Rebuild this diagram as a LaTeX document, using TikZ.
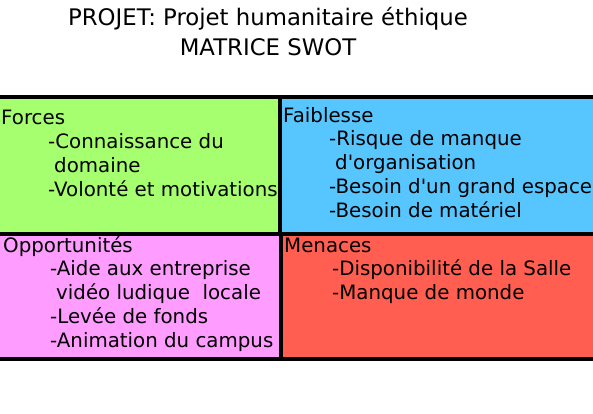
\documentclass[tikz,border=0pt]{standalone}
\usepackage{fontspec}
\setmainfont{DejaVu Sans}[Ligatures=TeXOff]
\usepackage{xcolor}
\usetikzlibrary{positioning}

\definecolor{forcegreen}{HTML}{A6FF6E}
\definecolor{weakblue}{HTML}{57C6FF}
\definecolor{opppink}{HTML}{FF9CFF}
\definecolor{threatred}{HTML}{FF5E50}

\begin{document}
\begin{tikzpicture}[x=1pt, y=-1pt,
    quad/.style={rectangle, inner sep=0pt, anchor=north west},
    heading/.style={anchor=base west, inner sep=0pt, font=\fontsize{19.8}{24}\selectfont},
    items/.style={anchor=base west, inner sep=0pt, align=left, font=\fontsize{19.8}{24}\selectfont},
    border/.style={line width=4pt},
]
\useasboundingbox (0,0) rectangle (593,413);

% title (base = last line)
\node[anchor=base, align=center, inner sep=0pt, font=\fontsize{22.8}{30}\selectfont] (title) at (268,55)
    {PROJET: Projet humanitaire éthique\\MATRICE SWOT};

% the four quadrants
\node[quad, fill=forcegreen, minimum width=280pt, minimum height=137pt] (forces) at (0,97) {};
\node[quad, fill=weakblue, minimum width=313pt, minimum height=137pt] (faiblesse) at (280,97) {};
\node[quad, fill=opppink, minimum width=281pt, minimum height=125pt] (opport) at (0,234) {};
\node[quad, fill=threatred, minimum width=312pt, minimum height=125pt] (menaces) at (281,234) {};

\draw[border] (forces.north west) -- (faiblesse.north east);
\draw[border] (forces.south west) -- (faiblesse.south east);
\draw[border] (opport.south west) -- (menaces.south east);
\draw[border] (forces.north east) -- (forces.south east);
\draw[border] (opport.north east) -- (opport.south east);

% texts (lists anchored on their last line)
\node[heading] (forcesT) at (1,124) {Forces};
\node[items] (forcesL) at (48,196) {-Connaissance du\\\hspace*{6pt}domaine\\-Volonté et motivations};

\node[heading] (faiblesseT) at (283,122) {Faiblesse};
\node[items] (faiblesseL) at (329,217) {-Risque de manque\\\hspace*{6pt}d'organisation\\-Besoin d'un grand espace\\-Besoin de matériel};

\node[heading] (opportT) at (3,252) {Opportunités};
\node[items] (opportL) at (50,347) {-Aide aux entreprise\\\hspace*{6pt}vidéo ludique\ \ locale\\-Levée de fonds\\-Animation du campus};

\node[heading] (menacesT) at (284,252) {Menaces};
\node[items] (menacesL) at (332,299) {-Disponibilité de la Salle\\-Manque de monde};

\end{tikzpicture}
\end{document}
